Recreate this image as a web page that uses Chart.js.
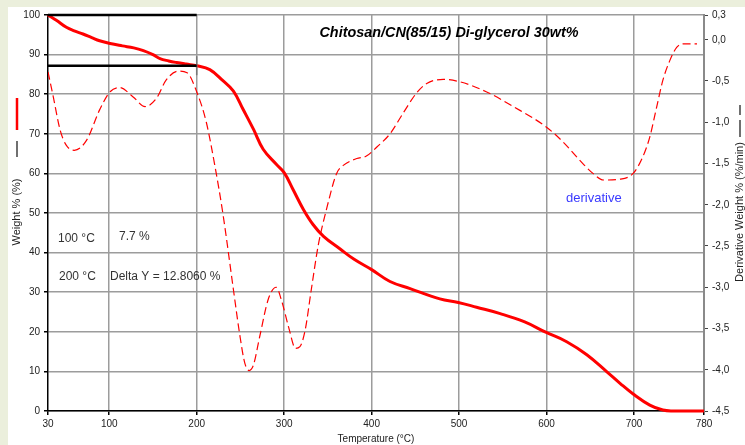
<!DOCTYPE html>
<html>
<head>
<meta charset="utf-8">
<script src="https://cdn.jsdelivr.net/npm/chart.js@4/dist/chart.umd.min.js"></script>
<style>
  html, body { margin: 0; padding: 0; background: #ebefdc; }
  #wrap { width: 745px; height: 445px; }
</style>
</head>
<body>
<div id="wrap"><canvas id="tgaChart" width="745" height="445"></canvas></div>
<script>
// TGA weight curve (left axis, %)
const weightTemp = [30, 40, 51, 60, 70, 80, 89, 101, 115, 128, 139, 150, 158, 168, 177, 188, 200, 215, 230, 242, 253, 265, 276, 291, 300, 310, 322, 333, 345, 364, 380, 400, 421, 444, 478, 499, 520, 547, 575, 599, 623, 646, 669, 684, 699, 718, 733, 745, 760, 780];
const weightPct = [100, 98.6, 96.9, 96.0, 95.2, 94.3, 93.5, 92.8, 92.2, 91.7, 91.0, 90.0, 89.0, 88.4, 88.0, 87.6, 87.2, 86.2, 83.4, 80.8, 76.2, 71.1, 66.1, 62.3, 60.2, 56.0, 50.9, 47.1, 44.1, 40.9, 38.3, 35.7, 32.7, 30.9, 28.3, 27.4, 26.2, 24.6, 22.5, 19.9, 17.5, 14.2, 9.9, 7.0, 4.3, 1.5, 0.25, 0, 0, 0];

// derivative curve (right axis, %/min)
const derivTemp = [30, 36, 44, 51, 60, 74, 89, 101, 112, 127, 141, 154, 165, 179, 189, 200, 211, 221, 230, 242, 249, 255, 260, 265, 272, 282, 291, 297, 305, 313, 318, 324, 331, 339, 349, 360, 368, 383, 394, 406, 421, 436, 451, 463, 482, 501, 531, 562, 600, 619, 637, 653, 665, 684, 699, 710, 718, 726, 733, 741, 749, 757, 772];
const derivRate = [-0.39, -0.69, -1.10, -1.28, -1.34, -1.22, -0.85, -0.63, -0.58, -0.69, -0.81, -0.71, -0.49, -0.38, -0.40, -0.63, -1.00, -1.54, -2.11, -3.03, -3.56, -3.92, -4.01, -3.94, -3.60, -3.14, -3.00, -3.16, -3.48, -3.74, -3.72, -3.52, -3.03, -2.49, -2.03, -1.62, -1.52, -1.44, -1.41, -1.30, -1.14, -0.89, -0.65, -0.53, -0.48, -0.51, -0.63, -0.81, -1.06, -1.24, -1.45, -1.62, -1.70, -1.69, -1.62, -1.42, -1.18, -0.81, -0.49, -0.25, -0.09, -0.05, -0.05];

const xTicks = [30, 100, 200, 300, 400, 500, 600, 700, 780];
const rightTicks = [0.3, 0, -0.5, -1, -1.5, -2, -2.5, -3, -3.5, -4, -4.5];

// cursor lines: 100 °C -> 200 °C delta
const refTemps = [30, 200];
const refLevels = [100, 87.194];
const cursorTemp = 200;
const cursorRange = [84.8, 89.6];

Chart.defaults.font.family = "'Liberation Sans', Arial, sans-serif";
Chart.defaults.color = "#222";

const toPoints = (xs, ys) => xs.map((x, i) => ({ x: x, y: ys[i] }));

const decorations = {
  id: "decorations",
  beforeDraw(chart) {
    const c = chart.ctx;
    c.save();
    c.fillStyle = "#ebefdc";
    c.fillRect(0, 0, chart.width, chart.height);
    c.fillStyle = "#ffffff";
    c.fillRect(8, 7, chart.width - 8, chart.height - 7);
    c.restore();
  },
  afterDraw(chart) {
    const c = chart.ctx;
    c.save();
    c.textBaseline = "middle";

    c.fillStyle = "#000";
    c.textAlign = "center";
    c.font = "bold italic 14.4px 'Liberation Sans', Arial, sans-serif";
    c.fillText("Chitosan/CN(85/15) Di-glycerol 30wt%", 449, 33);

    c.fillStyle = "#333";
    c.textAlign = "left";
    c.font = "12px 'Liberation Sans', Arial, sans-serif";
    c.fillText("100 °C", 58, 239);
    c.fillText("7.7 %", 119, 237);
    c.fillText("200 °C", 59, 277);
    c.fillText("Delta Y = 12.8060 %", 110, 277);

    c.fillStyle = "#3a3aff";
    c.font = "13px 'Liberation Sans', Arial, sans-serif";
    c.fillText("derivative", 566, 198);

    // axis titles
    c.fillStyle = "#222";
    c.textAlign = "center";
    c.font = "11px 'Liberation Sans', Arial, sans-serif";
    c.save();
    c.translate(17, 212);
    c.rotate(-Math.PI / 2);
    c.fillText("Weight % (%)", 0, 0);
    c.restore();
    c.save();
    c.translate(740, 212);
    c.rotate(-Math.PI / 2);
    c.fillText("Derivative Weight % (%/min)", 0, 0);
    c.restore();

    // little line-style markers beside the titles
    c.lineWidth = 2.5;
    c.strokeStyle = "#ff0000";
    c.beginPath(); c.moveTo(17, 98); c.lineTo(17, 130); c.stroke();
    c.lineWidth = 1.3;
    c.strokeStyle = "#222";
    c.beginPath(); c.moveTo(17, 141); c.lineTo(17, 157); c.stroke();
    c.beginPath(); c.moveTo(740, 105); c.lineTo(740, 115); c.stroke();
    c.beginPath(); c.moveTo(740, 120); c.lineTo(740, 137); c.stroke();
    c.restore();
  },
};

const ctx = document.getElementById("tgaChart").getContext("2d");
const tgaChart = new Chart(ctx, {
  type: "scatter",
  data: {
    datasets: [
      {
        data: toPoints(refTemps, [refLevels[0], refLevels[0]]),
        yAxisID: "y",
        showLine: true,
        borderColor: "#000",
        borderWidth: 2.5,
        pointRadius: 0,
        clip: false,
      },
      {
        data: toPoints(refTemps, [refLevels[1], refLevels[1]]),
        yAxisID: "y",
        showLine: true,
        borderColor: "#000",
        borderWidth: 2.5,
        pointRadius: 0,
        clip: false,
      },
      {
        data: toPoints([cursorTemp, cursorTemp], cursorRange),
        yAxisID: "y",
        showLine: true,
        borderColor: "#777",
        borderWidth: 1.5,
        pointRadius: 0,
      },
      {
        data: toPoints(weightTemp, weightPct),
        yAxisID: "y",
        showLine: true,
        borderColor: "#ff0000",
        borderWidth: 3,
        pointRadius: 0,
        tension: 0.4,
        clip: false,
      },
      {
        data: toPoints(derivTemp, derivRate),
        yAxisID: "y1",
        showLine: true,
        borderColor: "#ff0000",
        borderWidth: 1.2,
        borderDash: [8, 4],
        pointRadius: 0,
        cubicInterpolationMode: "monotone",
      },
    ],
  },
  options: {
    responsive: false,
    animation: false,
    events: [],
    layout: { padding: { top: 15, left: 0, right: 0, bottom: 0 } },
    plugins: {
      legend: { display: false },
      tooltip: { enabled: false },
    },
    scales: {
      x: {
        type: "linear",
        min: 30,
        max: 780,
        afterBuildTicks: (s) => {
          s.ticks = xTicks.map((v) => ({ value: v }));
        },
        afterFit: (s) => {
          s.height = 34;
        },
        ticks: { font: { size: 10 }, padding: 3, maxRotation: 0, autoSkip: false },
        grid: {
          color: (c) =>
            c.tick && (c.tick.value === 30 || c.tick.value === 780) ? "rgba(0,0,0,0)" : "#9c9c9c",
          lineWidth: 1.5,
          tickLength: 4,
          tickColor: "#000",
        },
        border: { color: "#000", width: 1.5 },
        title: {
          display: true,
          text: "Temperature (°C)",
          font: { size: 10 },
          padding: { top: 1, bottom: 0 },
        },
      },
      y: {
        position: "left",
        min: 0,
        max: 100,
        afterFit: (s) => {
          s.width = 48;
        },
        ticks: { stepSize: 10, font: { size: 10 }, padding: 4 },
        grid: { color: "#9c9c9c", lineWidth: 1.5, tickLength: 4, tickColor: "#000" },
        border: { color: "#000", width: 1.5 },
      },
      y1: {
        position: "right",
        min: -4.5,
        max: 0.3,
        afterBuildTicks: (s) => {
          s.ticks = rightTicks.map((v) => ({ value: v }));
        },
        afterFit: (s) => {
          s.width = 41;
        },
        ticks: {
          font: { size: 10 },
          padding: 4,
          callback: (v) => v.toFixed(1).replace(".", ","),
        },
        grid: { drawOnChartArea: false, tickLength: 4, tickColor: "#444" },
        border: { color: "#8a8a8a", width: 2 },
      },
    },
  },
  plugins: [decorations],
});
</script>
</body>
</html>
